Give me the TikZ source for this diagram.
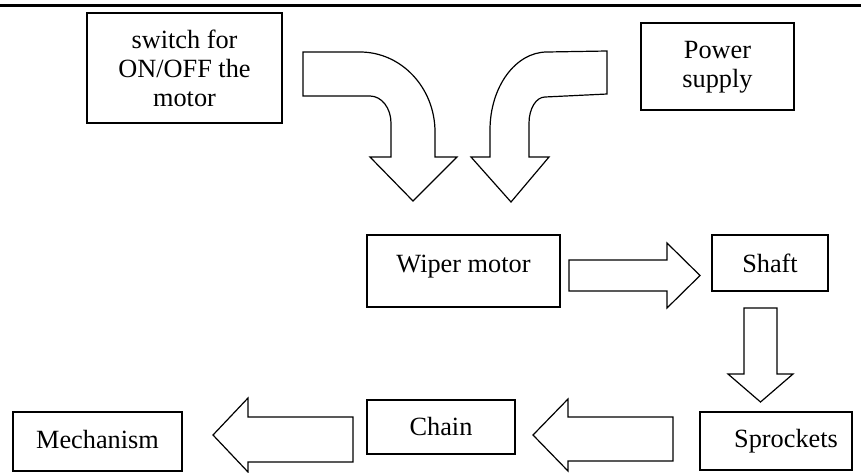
\documentclass[tikz,border=0pt]{standalone}
\usepackage{fontspec}
\setmainfont{Liberation Serif}
\begin{document}
\begin{tikzpicture}[x=1pt,y=-1pt,
  box/.style={draw, line width=1.2pt, inner sep=0pt},
  txt/.style={anchor=base, inner sep=0pt, font=\fontsize{26.3}{29.3}\selectfont},
  blk/.style={draw, line width=1.2pt, line join=miter}]
\useasboundingbox (0,0) rectangle (861,472);
% top rule
\draw[line width=3.3pt] (0,5.7) -- (861,5.7);
% boxes
\node[box, minimum width=195pt, minimum height=110pt] (sw) at (184.5,68) {};
\node[box, minimum width=153pt, minimum height=87pt] (ps) at (717.5,66.5) {};
\node[box, minimum width=193pt, minimum height=72pt] (wm) at (463.5,271) {};
\node[box, minimum width=116pt, minimum height=56pt] (sh) at (770,263) {};
\node[box, minimum width=152pt, minimum height=58pt] (sp) at (776,441) {};
\node[box, minimum width=148pt, minimum height=54pt] (ch) at (441,427) {};
\node[box, minimum width=169pt, minimum height=59pt] (me) at (97.5,441.5) {};
% texts
\node[txt] (swt) at (184.5,48) {\begin{tabular}[t]{@{}c@{}}switch for\\ON/OFF the\\motor\end{tabular}};
\node[txt] (pst) at (717.5,58) {\begin{tabular}[t]{@{}c@{}}Power\\supply\end{tabular}};
\node[txt] (wmt) at (463.5,272) {Wiper motor};
\node[txt] (sht) at (770,272) {Shaft};
\node[txt] (spt) at (786,447) {Sprockets};
\node[txt] (cht) at (441,435) {Chain};
\node[txt] (met) at (97.5,448) {Mechanism};
% curved arrow from switch
\draw[blk] (303,52) -- (360,52) .. controls (401.4,52) and (435,87.8) .. (435,132)
  -- (435,157) -- (457,157) -- (413,201) -- (370,157) -- (391,157) -- (391,123)
  .. controls (391,108.1) and (381.6,96) .. (370,96) -- (303,96) -- cycle;
% curved arrow from power supply
\draw[blk] (607,51) -- (547,52) .. controls (515.5,52) and (490,86.9) .. (490,130)
  -- (490,157) -- (471,157) -- (511,202) -- (549,157) -- (529,157) -- (529,123)
  .. controls (529,108.6) and (536.2,97) .. (545,97) -- (607,94) -- cycle;
% wiper motor -> shaft
\draw[blk] (569,260) -- (667,260) -- (667,243) -- (700,275.5) -- (667,308) -- (667,291) -- (569,291) -- cycle;
% shaft -> sprockets
\draw[blk] (744,308) -- (777,308) -- (777,374) -- (793,374) -- (760.5,402) -- (728,374) -- (744,374) -- cycle;
% sprockets -> chain
\draw[blk] (673,417) -- (568,417) -- (568,399) -- (533,435) -- (568,471) -- (568,461) -- (673,461) -- cycle;
% chain -> mechanism
\draw[blk] (353,417) -- (248,417) -- (248,398) -- (213,435) -- (248,472) -- (248,462) -- (353,462) -- cycle;
\end{tikzpicture}
\end{document}
